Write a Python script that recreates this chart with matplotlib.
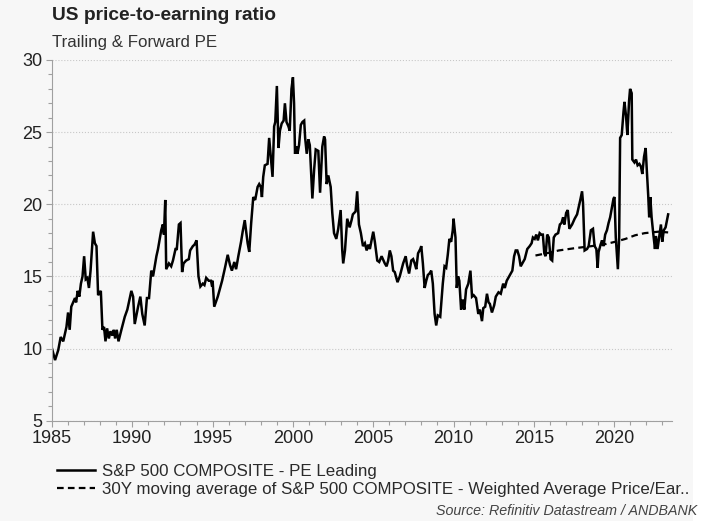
import matplotlib
matplotlib.use("Agg")
import matplotlib.pyplot as plt
from matplotlib.patches import Rectangle
from matplotlib.ticker import MultipleLocator

plt.rcParams['font.family'] = ['Liberation Sans', 'DejaVu Sans']

# S&P 500 forward PE (decimal year, value)
pe_years = [
    1985.0, 1985.19, 1985.39, 1985.54, 1985.7, 1985.9, 1986.0, 1986.1, 1986.2, 1986.43,
    1986.5, 1986.6, 1986.7, 1986.8, 1986.9, 1987.0, 1987.1, 1987.2, 1987.3, 1987.4,
    1987.56, 1987.67, 1987.77, 1987.87, 1988.04, 1988.14, 1988.24, 1988.33, 1988.43, 1988.54,
    1988.64, 1988.76, 1988.85, 1988.93, 1989.03, 1989.14, 1989.32, 1989.53, 1989.69, 1989.94,
    1990.05, 1990.15, 1990.36, 1990.5, 1990.62, 1990.77, 1990.91, 1991.04, 1991.18, 1991.29,
    1991.5, 1991.6, 1991.8, 1991.9, 1991.97, 1992.05, 1992.11, 1992.28, 1992.42, 1992.53,
    1992.69, 1992.77, 1992.9, 1993.0, 1993.1, 1993.19, 1993.35, 1993.52, 1993.6, 1993.77,
    1993.87, 1994.0, 1994.12, 1994.24, 1994.39, 1994.49, 1994.6, 1994.76, 1994.9, 1994.97,
    1995.0, 1995.1, 1995.32, 1995.59, 1995.77, 1995.94, 1996.08, 1996.2, 1996.35, 1996.46,
    1996.6, 1996.77, 1996.87, 1997.0, 1997.08, 1997.18, 1997.28, 1997.4, 1997.53, 1997.65,
    1997.8, 1997.9, 1998.0, 1998.07, 1998.15, 1998.25, 1998.42, 1998.52, 1998.63, 1998.73,
    1998.83, 1998.9, 1999.0, 1999.1, 1999.19, 1999.3, 1999.42, 1999.5, 1999.6, 1999.72,
    1999.8, 1999.91, 2000.0, 2000.07, 2000.13, 2000.21, 2000.28, 2000.38, 2000.49, 2000.59,
    2000.7, 2000.76, 2000.86, 2000.96, 2001.05, 2001.11, 2001.21, 2001.32, 2001.42, 2001.58,
    2001.69, 2001.83, 2001.94, 2002.0, 2002.1, 2002.2, 2002.35, 2002.45, 2002.56, 2002.7,
    2002.82, 2002.97, 2003.07, 2003.13, 2003.24, 2003.38, 2003.53, 2003.65, 2003.73, 2003.9,
    2004.0, 2004.11, 2004.23, 2004.36, 2004.48, 2004.59, 2004.69, 2004.79, 2005.0, 2005.1,
    2005.25, 2005.37, 2005.52, 2005.72, 2005.83, 2005.93, 2006.03, 2006.13, 2006.24, 2006.34,
    2006.51, 2006.65, 2006.86, 2007.02, 2007.1, 2007.23, 2007.37, 2007.48, 2007.58, 2007.68,
    2007.79, 2007.93, 2007.99, 2008.09, 2008.2, 2008.3, 2008.4, 2008.5, 2008.61, 2008.71,
    2008.82, 2008.92, 2009.02, 2009.17, 2009.33, 2009.44, 2009.54, 2009.64, 2009.74, 2009.85,
    2009.95, 2010.0, 2010.12, 2010.2, 2010.28, 2010.36, 2010.47, 2010.57, 2010.67, 2010.78,
    2010.92, 2011.05, 2011.15, 2011.25, 2011.4, 2011.54, 2011.64, 2011.77, 2011.85, 2011.97,
    2012.08, 2012.18, 2012.26, 2012.39, 2012.53, 2012.63, 2012.8, 2012.94, 2013.09, 2013.19,
    2013.31, 2013.46, 2013.56, 2013.66, 2013.77, 2013.87, 2013.97, 2014.08, 2014.18, 2014.28,
    2014.43, 2014.59, 2014.74, 2014.86, 2014.94, 2015.05, 2015.15, 2015.25, 2015.36, 2015.46,
    2015.56, 2015.65, 2015.73, 2015.83, 2015.93, 2016.04, 2016.14, 2016.24, 2016.35, 2016.51,
    2016.62, 2016.72, 2016.82, 2016.9, 2017.01, 2017.11, 2017.21, 2017.38, 2017.54, 2017.69,
    2017.79, 2017.89, 2018.0, 2018.06, 2018.16, 2018.31, 2018.41, 2018.55, 2018.68, 2018.78,
    2018.89, 2018.97, 2019.03, 2019.13, 2019.24, 2019.34, 2019.44, 2019.55, 2019.65, 2019.75,
    2019.86, 2019.96, 2020.02, 2020.1, 2020.23, 2020.31, 2020.37, 2020.47, 2020.58, 2020.64,
    2020.74, 2020.82, 2020.93, 2020.99, 2021.09, 2021.13, 2021.26, 2021.36, 2021.46, 2021.57,
    2021.67, 2021.75, 2021.86, 2021.96, 2022.02, 2022.12, 2022.18, 2022.25, 2022.33, 2022.43,
    2022.54, 2022.6, 2022.7, 2022.8, 2022.91, 2022.99, 2023.09, 2023.2, 2023.36,
]
pe_values = [
    10.0, 9.2, 9.9, 10.8, 10.5, 11.5, 12.5, 11.3, 12.9, 13.5,
    13.2, 14.0, 13.6, 14.5, 15.0, 16.4, 14.8, 14.9, 14.2, 15.4,
    18.1, 17.3, 17.1, 13.7, 14.0, 11.3, 11.5, 10.5, 11.4, 10.7,
    11.2, 10.9, 11.3, 10.7, 11.3, 10.5, 11.3, 12.2, 12.7, 14.0,
    13.6, 11.7, 12.9, 13.6, 12.4, 11.6, 13.5, 13.5, 15.4, 15.0,
    16.4, 16.9, 18.2, 18.6, 17.9, 20.3, 15.5, 15.9, 15.7, 16.1,
    16.9, 16.9, 18.6, 18.7, 15.3, 15.9, 16.1, 16.2, 16.8, 17.1,
    17.2, 17.5, 15.0, 14.3, 14.5, 14.4, 14.9, 14.7, 14.7, 14.3,
    14.7, 12.9, 13.6, 14.7, 15.6, 16.5, 15.8, 15.4, 16.0, 15.5,
    16.4, 17.4, 18.1, 18.9, 18.2, 17.3, 16.7, 18.7, 20.5, 20.3,
    21.2, 21.4, 21.2, 20.5, 21.9, 22.7, 22.8, 24.6, 23.2, 21.9,
    25.4, 25.7, 28.2, 23.9, 25.1, 25.6, 25.8, 27.0, 25.7, 25.4,
    25.1, 28.0, 28.8, 27.0, 23.5, 24.0, 23.5, 24.1, 25.5, 25.7,
    25.8, 24.6, 23.5, 24.5, 24.1, 22.7, 20.4, 22.4, 23.8, 23.7,
    20.8, 24.0, 24.7, 24.5, 21.4, 22.0, 21.2, 19.4, 18.0, 17.6,
    18.3, 19.6, 16.8, 15.9, 16.8, 19.0, 18.4, 18.9, 19.3, 19.5,
    20.9, 18.6, 18.0, 17.1, 17.3, 16.8, 17.2, 16.9, 18.1, 17.4,
    16.1, 16.0, 16.4, 15.9, 15.7, 16.1, 16.8, 16.4, 15.4, 15.3,
    14.6, 15.0, 15.9, 16.4, 15.8, 15.2, 16.1, 16.2, 15.9, 15.5,
    16.6, 16.9, 17.1, 15.9, 14.2, 14.7, 15.1, 15.2, 15.4, 14.5,
    12.4, 11.6, 12.3, 12.2, 14.5, 15.7, 15.6, 16.5, 17.6, 17.4,
    18.2, 19.0, 17.7, 14.2, 15.0, 14.7, 12.7, 13.4, 12.7, 14.1,
    14.5, 15.4, 13.6, 13.7, 13.5, 12.4, 12.7, 11.9, 12.8, 12.9,
    13.8, 13.2, 13.1, 12.5, 13.0, 13.6, 13.9, 13.8, 14.5, 14.2,
    14.7, 15.0, 15.2, 15.4, 16.4, 16.8, 16.8, 16.4, 15.7, 15.9,
    16.2, 16.9, 17.1, 17.3, 17.7, 17.6, 17.9, 17.5, 18.0, 17.9,
    17.9, 16.6, 16.4, 17.9, 17.7, 16.2, 16.1, 17.7, 17.9, 18.0,
    18.6, 18.7, 19.1, 18.6, 19.4, 19.6, 18.3, 18.6, 19.0, 19.3,
    19.8, 20.3, 20.9, 20.1, 16.8, 16.9, 17.1, 18.2, 18.3, 17.1,
    16.9, 15.6, 16.7, 17.1, 17.5, 17.1, 17.9, 18.2, 18.7, 19.1,
    19.8, 20.4, 20.5, 17.7, 15.5, 17.7, 24.6, 24.8, 26.4, 27.1,
    26.1, 24.8, 27.2, 28.0, 27.7, 23.1, 22.9, 23.1, 22.7, 22.8,
    22.6, 22.1, 23.3, 23.9, 22.6, 20.6, 19.1, 20.5, 19.1, 18.0,
    16.9, 17.8, 16.9, 17.7, 18.6, 17.4, 18.2, 18.4, 19.3,
]

# 30Y moving average of weighted average P/E
ma_years = [2015.1, 2016.0, 2016.55, 2017.5, 2018.6, 2019.5, 2020.06, 2020.7, 2021.3, 2021.9, 2022.75, 2023.36]
ma_values = [16.45, 16.65, 16.8, 16.95, 17.1, 17.25, 17.4, 17.6, 17.85, 18.0, 18.1, 18.05]

bg = '#f7f7f7'
fig = plt.figure(figsize=(7.05, 5.21), dpi=100, facecolor=bg)
# white strip on the right edge of the original image
fig.add_artist(Rectangle((693 / 705, 0), 12 / 705, 1, transform=fig.transFigure,
                         facecolor='white', edgecolor='none', zorder=-1))

ax = fig.add_axes([52 / 705, 1 - 420.7 / 521, 620 / 705, 360.7 / 521])
ax.set_facecolor(bg)

l1, = ax.plot(pe_years, pe_values, color='black', lw=1.8, solid_joinstyle='miter',
              label='S&P 500 COMPOSITE - PE Leading')
l2, = ax.plot(ma_years, ma_values, color='black', lw=1.6, dashes=(3.0, 1.9),
              label='30Y moving average of S&P 500 COMPOSITE - Weighted Average Price/Ear..')

ax.set_xlim(1985, 2023.6)
ax.set_ylim(5, 30)
ax.xaxis.set_major_locator(MultipleLocator(5))
ax.xaxis.set_minor_locator(MultipleLocator(1))
ax.yaxis.set_major_locator(MultipleLocator(5))
ax.yaxis.set_minor_locator(MultipleLocator(1))

for s in ['top', 'right']:
    ax.spines[s].set_visible(False)
for s in ['left', 'bottom']:
    ax.spines[s].set_color('#a0a0a0')
    ax.spines[s].set_linewidth(0.8)

ax.tick_params(which='both', colors='#a0a0a0', labelcolor='#222222', width=0.8)
ax.tick_params(which='major', length=4, labelsize=13)
ax.tick_params(which='minor', length=3)
ax.tick_params(axis='y', pad=3)
ax.tick_params(axis='x', pad=3)

ax.grid(axis='y', which='major', color='#c8c8c8', linestyle=':', linewidth=0.8)
ax.set_axisbelow(True)

fig.text(52 / 705, 1 - 16 / 521, 'US price-to-earning ratio', fontsize=13.8, fontweight='bold',
         color='#222222', va='center', ha='left')
fig.text(52 / 705, 1 - 42 / 521, 'Trailing & Forward PE', fontsize=12.2, color='#333333',
         va='center', ha='left')

fig.legend(handles=[l1, l2], loc='upper left', bbox_to_anchor=(56.7 / 705, 1 - 464 / 521),
           frameon=False, fontsize=12.2, handlelength=2.25, handletextpad=0.4,
           labelspacing=0.15, borderaxespad=0, borderpad=0, labelcolor='#2a2a2a')

fig.text(697 / 705, 1 - 511 / 521, 'Source: Refinitiv Datastream / ANDBANK', fontsize=10.3,
         style='italic', color='#444444', ha='right', va='center')

fig.savefig('out.png', dpi=100, facecolor=bg)
